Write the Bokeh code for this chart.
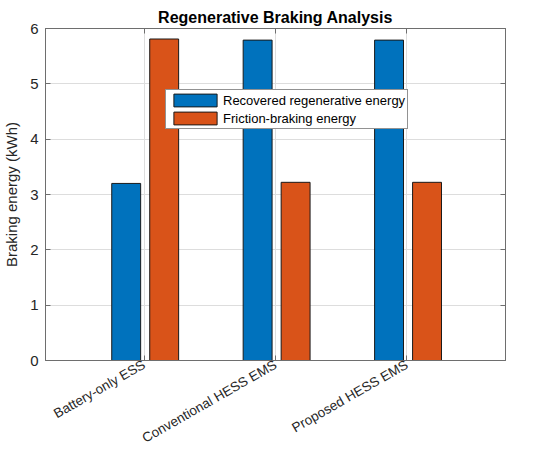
from bokeh.plotting import figure
from bokeh.models import ColumnDataSource, FactorRange, Legend, LegendItem, LinearAxis, CategoricalAxis, FixedTicker
from bokeh.transform import dodge
from bokeh.embed import file_html
from bokeh.resources import INLINE

categories = ["Battery-only ESS", "Conventional HESS EMS", "Proposed HESS EMS"]
recovered = [3.2, 5.79, 5.79]
friction = [5.81, 3.22, 3.22]
series_names = ["Recovered regenerative energy", "Friction-braking energy"]
y_ticks = [0, 1, 2, 3, 4, 5, 6]

FONT = "Liberation Sans"
AX = "#262626"
FRAME = "#6e6e6e"

src = ColumnDataSource(dict(cat=categories, rec=recovered, fri=friction))

p = figure(width=534, height=455, output_backend="svg", toolbar_location=None,
           x_range=FactorRange(factors=categories, range_padding=0.25, range_padding_units="absolute"),
           y_range=(0, 6), min_border_left=34, min_border_right=29,
           min_border_top=28, min_border_bottom=93,
           title="Regenerative Braking Analysis")

r1 = p.vbar(x=dodge("cat", -0.136, range=p.x_range), top="rec", width=0.22, source=src,
            fill_color="#0072BD", line_color="#1a1a1a", line_width=1)
r2 = p.vbar(x=dodge("cat", 0.153, range=p.x_range), top="fri", width=0.22, source=src,
            fill_color="#D95319", line_color="#1a1a1a", line_width=1)

p.title.text_font = FONT
p.title.text_font_size = "16px"
p.title.text_font_style = "bold"
p.title.align = "center"
p.title.text_color = "#000000"
p.title.offset = 0
p.title.standoff = 5

p.outline_line_color = FRAME
p.outline_line_width = 1

for ax in p.yaxis:
    ax.ticker = FixedTicker(ticks=y_ticks)
    ax.axis_label = "Braking energy (kWh)"
    ax.axis_label_text_font = FONT
    ax.axis_label_text_font_size = "15px"
    ax.axis_label_text_font_style = "normal"
    ax.axis_label_text_color = AX
    ax.axis_label_standoff = 7
    ax.major_label_text_font = FONT
    ax.major_label_text_font_size = "15px"
    ax.major_label_text_color = AX
    ax.major_tick_in = 5
    ax.major_tick_out = 0
    ax.minor_tick_line_color = None
    ax.axis_line_color = FRAME
    ax.major_tick_line_color = FRAME
    ax.major_label_standoff = 7

for ax in p.xaxis:
    ax.major_label_orientation = 0.52
    ax.major_label_text_font = FONT
    ax.major_label_text_font_size = "13.5px"
    ax.major_label_text_color = AX
    ax.major_tick_in = 5
    ax.major_tick_out = 0
    ax.axis_line_color = FRAME
    ax.major_tick_line_color = FRAME
    ax.major_label_standoff = 3

yr = LinearAxis(ticker=FixedTicker(ticks=y_ticks), major_label_text_font_size="0px",
                major_tick_in=5, major_tick_out=0, minor_tick_line_color=None,
                axis_line_color=FRAME, major_tick_line_color=FRAME, major_label_standoff=0)
p.add_layout(yr, "right")
xt = CategoricalAxis(major_label_text_font_size="0px", major_tick_in=5, major_tick_out=0,
                     axis_line_color=FRAME, major_tick_line_color=FRAME, major_label_standoff=0)
p.add_layout(xt, "above")

p.xgrid.grid_line_color = "#dddddd"
p.ygrid.grid_line_color = "#dddddd"
p.xgrid.grid_line_width = 1
p.ygrid.grid_line_width = 1

legend = Legend(items=[LegendItem(label=series_names[0], renderers=[r1]),
                       LegendItem(label=series_names[1], renderers=[r2])],
                location=(120, 231))
legend.label_text_font = FONT
legend.label_text_font_size = "13px"
legend.label_text_color = "#000000"
legend.glyph_width = 54
legend.glyph_height = 16
legend.label_standoff = 1
legend.padding = 2
legend.spacing = 2
legend.margin = 0
legend.label_height = 16
legend.border_line_color = "#262626"
legend.border_line_width = 1
legend.background_fill_alpha = 1
p.add_layout(legend, "center")

open("out.html", "w").write(file_html(p, INLINE))
